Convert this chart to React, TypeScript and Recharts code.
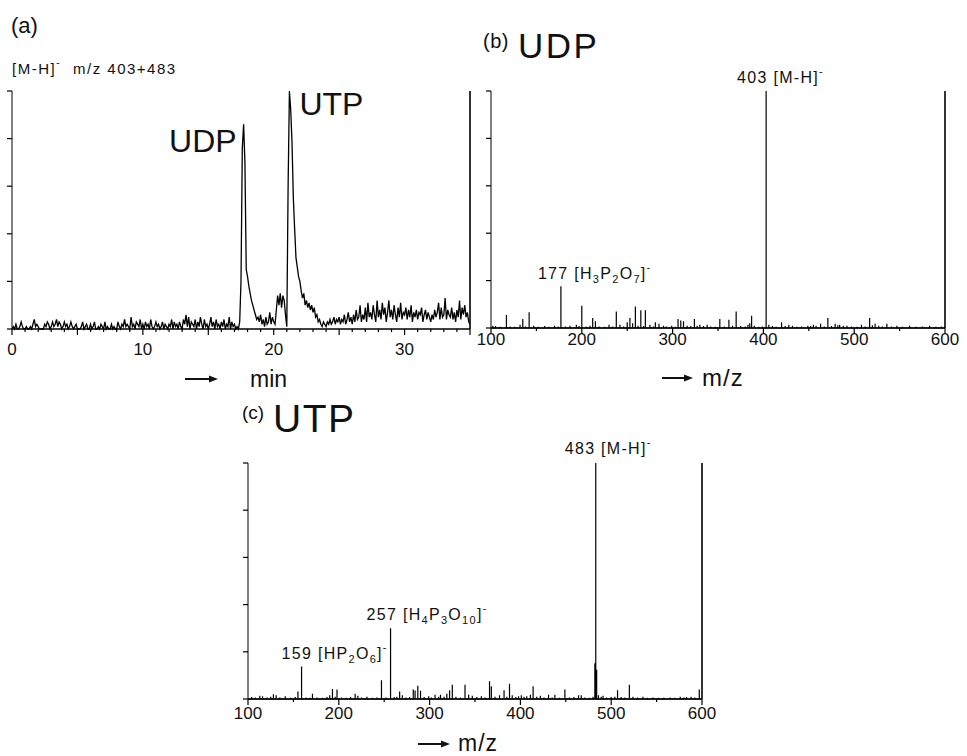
import React from 'react';
import { LineChart, Line, XAxis, YAxis, ReferenceLine, ReferenceDot } from 'recharts';

const FONT = "'Liberation Sans', Arial, Helvetica, sans-serif";
const INK = '#111';

// (a) mass chromatogram of [M-H]- m/z 403+483, one reading every 0.1 min (0 .. 35 min), % of UTP peak
const chromStep = 0.1;
const chromSignal = [
  0, 1, 0, 2, 0, 0, 1, 3, 1, 0,
  0, 1, 0, 0, 1, 0, 2, 4, 1, 2,
  1, 0, 0, 0, 0, 2, 1, 3, 2, 0,
  1, 3, 1, 2, 4, 1, 3, 2, 0, 1,
  3, 1, 2, 0, 1, 3, 1, 0, 1, 2,
  0, 0, 0, 1, 3, 0, 1, 2, 0, 0,
  2, 0, 1, 3, 0, 0, 1, 0, 2, 1,
  0, 3, 0, 1, 0, 0, 2, 0, 1, 0,
  0, 3, 1, 0, 2, 1, 4, 1, 2, 1,
  0, 5, 1, 2, 0, 3, 2, 1, 4, 0,
  2, 0, 3, 1, 2, 0, 4, 1, 0, 1,
  3, 1, 2, 0, 1, 3, 0, 2, 1, 0,
  2, 1, 4, 0, 3, 1, 2, 0, 3, 1,
  0, 4, 2, 6, 1, 5, 0, 3, 2, 1,
  4, 0, 3, 1, 5, 2, 0, 4, 1, 2,
  0, 2, 5, 1, 3, 0, 4, 1, 2, 0,
  3, 1, 4, 0, 2, 1, 5, 0, 3, 1,
  2, 0, 1, 0, 3, 20, 76, 86, 70, 25,
  22, 18, 15, 12, 10, 8, 6, 4, 5, 3,
  6, 2, 4, 1, 5, 2, 3, 7, 2, 5,
  3, 2, 8, 14, 10, 15, 9, 14, 12, 6,
  1, 60, 100, 92, 78, 55, 42, 30, 26, 22,
  20, 16, 13, 15, 10, 12, 9, 11, 8, 10,
  7, 9, 5, 6, 3, 4, 2, 1, 3, 2,
  1, 3, 2, 4, 2, 3, 5, 2, 4, 3,
  5, 2, 4, 3, 6, 2, 4, 7, 3, 5,
  2, 6, 3, 8, 4, 5, 10, 3, 6, 4,
  9, 3, 11, 5, 7, 4, 10, 6, 3, 12,
  5, 8, 4, 11, 6, 9, 3, 7, 12, 5,
  8, 4, 10, 6, 3, 9, 5, 11, 4, 7,
  6, 9, 4, 8, 5, 10, 3, 7, 5, 8,
  4, 7, 6, 9, 3, 6, 8, 4, 7, 5,
  3, 6, 4, 8, 5, 7, 11, 4, 9, 5,
  6, 13, 4, 8, 6, 5, 9, 4, 7, 3,
  8, 5, 12, 4, 9, 6, 10, 5, 7, 3,
  2,
];
const timeTicks = Array.from({ length: 36 }, (_, i) => i);
const timeLabels = [0, 10, 20, 30];

// (b) UDP spectrum: [m/z, relative intensity %]
const udpPeaks: [number, number][] = [
  [102, 1], [105, 0.8], [110, 0.5], [117, 5.5], [121, 0.6], [126, 0.5], [132, 1.4], [135, 3.8],
  [138, 0.6], [142, 6.6], [147, 1], [152, 0.5], [159, 0.8], [164, 0.5], [170, 1], [174, 0.6],
  [177, 17.6], [182, 0.6], [187, 1], [194, 1.4], [197, 0.8], [200, 9.4], [205, 0.6], [209, 1],
  [212, 4.2], [215, 2.8], [219, 0.6], [225, 0.5], [230, 1.4], [234, 0.6], [238, 7], [242, 1.4],
  [246, 0.6], [250, 2.4], [253, 4.2], [256, 2], [259, 9.1], [262, 1], [265, 7.5], [268, 0.8],
  [270, 7.5], [275, 1.4], [279, 0.6], [281, 2.4], [285, 1.8], [290, 1], [293, 0.6], [299, 1],
  [303, 0.5], [306, 3.8], [309, 3.2], [312, 2.8], [316, 1], [320, 0.8], [324, 3.8], [327, 1],
  [330, 1.4], [334, 0.8], [338, 1.4], [342, 0.6], [347, 0.5], [352, 3.8], [357, 0.6], [362, 3.5],
  [366, 1], [370, 7], [375, 0.8], [380, 0.6], [383, 1.4], [385, 2], [387, 5.2], [390, 1],
  [395, 0.5], [399, 0.6], [403, 100], [406, 1.4], [410, 0.8], [414, 0.5], [420, 2.4], [424, 0.8],
  [428, 1.4], [432, 1], [437, 0.5], [442, 0.6], [449, 1], [452, 0.8], [455, 1.4], [458, 1],
  [463, 1.8], [467, 0.6], [471, 4.2], [475, 0.8], [479, 1.8], [482, 1.2], [484, 1.4], [488, 1],
  [492, 1], [497, 0.6], [503, 0.5], [508, 1.4], [512, 0.6], [517, 4.2], [520, 1.2], [523, 1.8],
  [527, 1], [531, 0.6], [536, 1.8], [541, 0.6], [547, 1], [553, 0.5], [561, 1], [568, 0.5],
  [575, 0.6], [583, 1], [590, 0.5], [596, 0.6],
];

// (c) UTP spectrum
const utpPeaks: [number, number][] = [
  [104, 0.8], [108, 0.6], [113, 1.4], [116, 1.2], [121, 0.6], [125, 1], [128, 2], [131, 1.6],
  [135, 0.6], [141, 1.2], [147, 0.5], [152, 0.8], [155, 3.2], [159, 13.8], [164, 0.6], [168, 0.5],
  [171, 2.2], [176, 0.6], [182, 0.5], [187, 0.8], [190, 1.6], [193, 4.2], [196, 1], [198, 4],
  [203, 0.6], [208, 0.5], [213, 0.8], [218, 2.2], [221, 1.4], [225, 0.6], [231, 1], [237, 0.5],
  [242, 0.6], [247, 7.9], [252, 0.6], [257, 30], [261, 0.8], [264, 1], [267, 3.2], [270, 1.6],
  [274, 0.6], [278, 0.8], [282, 4], [284, 3.6], [287, 5.6], [290, 3.5], [294, 0.8], [299, 1.2],
  [302, 0.6], [306, 1.8], [310, 1], [312, 1.8], [316, 1], [319, 2.2], [322, 3.7], [325, 6],
  [329, 1], [334, 0.6], [339, 6], [343, 1.8], [347, 1.4], [352, 0.8], [357, 1.2], [361, 0.6],
  [366, 7.5], [368, 5.4], [372, 1], [377, 1.6], [382, 3.7], [385, 1], [388, 6.5], [391, 1.6],
  [395, 0.8], [398, 1.2], [401, 1.6], [404, 1], [407, 1.2], [411, 1.8], [414, 5.4], [418, 1],
  [422, 1.4], [426, 0.6], [431, 1.8], [435, 0.6], [438, 1.8], [443, 0.5], [449, 4], [454, 0.6],
  [459, 0.8], [464, 1.6], [467, 1.6], [471, 0.6], [476, 0.5], [480, 1], [482, 15.2], [483, 100],
  [484, 12.4], [486, 1.6], [489, 1], [491, 1.4], [495, 0.6], [500, 0.8], [504, 1], [507, 3.7],
  [511, 0.8], [515, 0.6], [520, 6], [524, 1], [529, 0.6], [535, 1], [540, 0.5], [546, 0.6],
  [552, 0.5], [558, 0.5], [565, 0.6], [570, 0.5], [576, 1], [580, 0.6], [583, 0.8], [588, 1],
  [592, 0.6], [597, 4],
];

const mzTicks = [100, 150, 200, 250, 300, 350, 400, 450, 500, 550, 600];
const mzLabels = [100, 200, 300, 400, 500, 600];
const intensityTicks = [0, 20, 40, 60, 80, 100];

const chromRows = chromSignal.map((v, i) => ({ t: Math.round(i * chromStep * 10) / 10, v }));

// stick spectrum: each peak drawn as up-and-down from the baseline
const sticks = (peaks: [number, number][]) => {
  const rows = [{ mz: 100, y: 0 }];
  peaks.forEach(([mz, y]) => rows.push({ mz, y: 0 }, { mz, y }, { mz, y: 0 }));
  rows.push({ mz: 600, y: 0 });
  return rows;
};
const udpRows = sticks(udpPeaks);
const utpRows = sticks(utpPeaks);

type Part = [string, 'n' | 'sub' | 'sup'];

function Tag(props: any) {
  const { viewBox, dx = 0, dy = 0, parts, size = 16, spacing = 1.3, anchor = 'start' } = props;
  if (!viewBox) return null;
  let shift = 0;
  return (
    <text
      x={viewBox.x + dx}
      y={viewBox.y + dy}
      fontSize={size}
      letterSpacing={spacing}
      textAnchor={anchor}
      fontFamily={FONT}
      fill={INK}
    >
      {(parts as Part[]).map(([s, k], i) => {
        const target = k === 'sub' ? 4 : k === 'sup' ? -8 : 0;
        const d = target - shift;
        shift = target;
        return (
          <tspan key={i} dy={d} fontSize={k === 'n' ? size : Math.round(size * 0.68)}>
            {s}
          </tspan>
        );
      })}
    </text>
  );
}

function BottomTick(props: any) {
  const { x, y, payload, labels, majorEvery, gap } = props;
  const v = payload.value;
  const major = Math.abs(v % majorEvery) < 1e-6;
  return (
    <g>
      <line x1={x} x2={x} y1={y} y2={y + (major ? 6 : 3)} stroke="#000" strokeWidth={1.2} />
      {labels.includes(v) && (
        <text x={x} y={y + gap} textAnchor="middle" fontSize={17} fontFamily={FONT} fill={INK}>
          {v}
        </text>
      )}
    </g>
  );
}

const Arrow = ({ x1, x2, y }: { x1: number; x2: number; y: number }) => (
  <g>
    <line x1={x1} x2={x2 - 6} y1={y} y2={y} stroke={INK} strokeWidth={2} />
    <polygon points={`${x2 - 9},${y - 3.5} ${x2},${y} ${x2 - 9},${y + 3.5}`} fill={INK} />
  </g>
);

const leftAxis = (
  <YAxis
    type="number"
    domain={[0, 100]}
    ticks={intensityTicks}
    interval={0}
    width={1}
    tickSize={5}
    tickFormatter={() => ''}
    axisLine={{ stroke: '#000', strokeWidth: 1 }}
    tickLine={{ stroke: '#000', strokeWidth: 1.2 }}
  />
);

const bottomAxis = (key: string, domain: number[], ticks: number[], labels: number[], majorEvery: number, gap: number) => (
  <XAxis
    dataKey={key}
    type="number"
    domain={domain}
    ticks={ticks}
    interval={0}
    height={1}
    tickSize={0}
    tickMargin={0}
    tickLine={false}
    axisLine={{ stroke: '#000', strokeWidth: 1.4 }}
    tick={<BottomTick labels={labels} majorEvery={majorEvery} gap={gap} />}
  />
);

const dotStyle = { r: 0, fill: 'none', stroke: 'none' };

export default function App() {
  return (
    <div style={{ position: 'absolute', left: 0, top: 0, width: 967, height: 756, background: '#fff' }}>
      {/* (a) chromatogram */}
      <div style={{ position: 'absolute', left: 0, top: 40 }}>
        <LineChart width={480} height={330} data={chromRows} margin={{ top: 51, right: 10, bottom: 40, left: 11 }}>
          {bottomAxis('t', [0, 35], timeTicks, timeLabels, 5, 26)}
          {leftAxis}
          <ReferenceLine x={35} stroke="#000" strokeWidth={1.6} />
          <Line type="linear" dataKey="v" stroke="#000" strokeWidth={1.3} dot={false} isAnimationActive={false} />
          <ReferenceDot x={17.7} y={86} {...dotStyle} label={<Tag parts={[['UDP', 'n']]} size={32} spacing={0} anchor="end" dx={-7} dy={28} />} />
          <ReferenceDot x={21.2} y={100} {...dotStyle} label={<Tag parts={[['UTP', 'n']]} size={32} spacing={0} dx={10} dy={24} />} />
        </LineChart>
      </div>

      {/* (b) UDP spectrum */}
      <div style={{ position: 'absolute', left: 470, top: 40 }}>
        <LineChart width={497} height={330} data={udpRows} margin={{ top: 51, right: 22, bottom: 41, left: 20 }}>
          {bottomAxis('mz', [100, 600], mzTicks, mzLabels, 100, 17)}
          {leftAxis}
          <ReferenceLine x={600} stroke="#000" strokeWidth={1.6} />
          <Line type="linear" dataKey="y" stroke="#000" strokeWidth={1.2} dot={false} isAnimationActive={false} />
          <ReferenceDot x={403} y={100} {...dotStyle} label={<Tag parts={[['403 [M-H]', 'n'], ['-', 'sup']]} dx={-29} dy={-8} />} />
          <ReferenceDot
            x={177}
            y={17.6}
            {...dotStyle}
            label={
              <Tag
                parts={[['177 [H', 'n'], ['3', 'sub'], ['P', 'n'], ['2', 'sub'], ['O', 'n'], ['7', 'sub'], [']', 'n'], ['-', 'sup']]}
                dx={-23}
                dy={-7}
              />
            }
          />
        </LineChart>
      </div>

      {/* (c) UTP spectrum */}
      <div style={{ position: 'absolute', left: 220, top: 400 }}>
        <LineChart width={500} height={345} data={utpRows} margin={{ top: 63, right: 18, bottom: 45, left: 27 }}>
          {bottomAxis('mz', [100, 600], mzTicks, mzLabels, 100, 20)}
          {leftAxis}
          <ReferenceLine x={600} stroke="#000" strokeWidth={1.6} />
          <Line type="linear" dataKey="y" stroke="#000" strokeWidth={1.2} dot={false} isAnimationActive={false} />
          <ReferenceDot x={483} y={100} {...dotStyle} label={<Tag parts={[['483 [M-H]', 'n'], ['-', 'sup']]} dx={-31} dy={-9} />} />
          <ReferenceDot
            x={257}
            y={30}
            {...dotStyle}
            label={
              <Tag
                parts={[['257 [H', 'n'], ['4', 'sub'], ['P', 'n'], ['3', 'sub'], ['O', 'n'], ['10', 'sub'], [']', 'n'], ['-', 'sup']]}
                dx={-24}
                dy={-8}
              />
            }
          />
          <ReferenceDot
            x={159}
            y={13.8}
            {...dotStyle}
            label={
              <Tag
                parts={[['159 [HP', 'n'], ['2', 'sub'], ['O', 'n'], ['6', 'sub'], [']', 'n'], ['-', 'sup']]}
                dx={-20}
                dy={-7}
              />
            }
          />
        </LineChart>
      </div>

      {/* panel letters, titles and axis captions */}
      <svg
        width={967}
        height={756}
        style={{ position: 'absolute', left: 0, top: 0, pointerEvents: 'none' }}
        fontFamily={FONT}
        fill={INK}
      >
        <text x={11} y={33} fontSize={22}>(a)</text>
        <text x={12} y={74} fontSize={15} letterSpacing={1.5}>
          [M-H]
          <tspan dy={-8} fontSize={10}>-</tspan>
          <tspan x={73} dy={8}>m/z 403+483</tspan>
        </text>
        <Arrow x1={185} x2={218} y={379} />
        <text x={250} y={387} fontSize={23}>min</text>

        <text x={483} y={48} fontSize={20} letterSpacing={0.5}>(b)</text>
        <text x={518} y={58} fontSize={35} letterSpacing={2.5}>UDP</text>
        <Arrow x1={662} x2={693} y={378} />
        <text x={702} y={386} fontSize={24} letterSpacing={1}>m/z</text>

        <text x={242} y={419} fontSize={19}>(c)</text>
        <text x={273} y={432} fontSize={39} letterSpacing={1.5}>UTP</text>
        <Arrow x1={418} x2={450} y={744} />
        <text x={458} y={751} fontSize={23} letterSpacing={1}>m/z</text>
      </svg>
    </div>
  );
}
